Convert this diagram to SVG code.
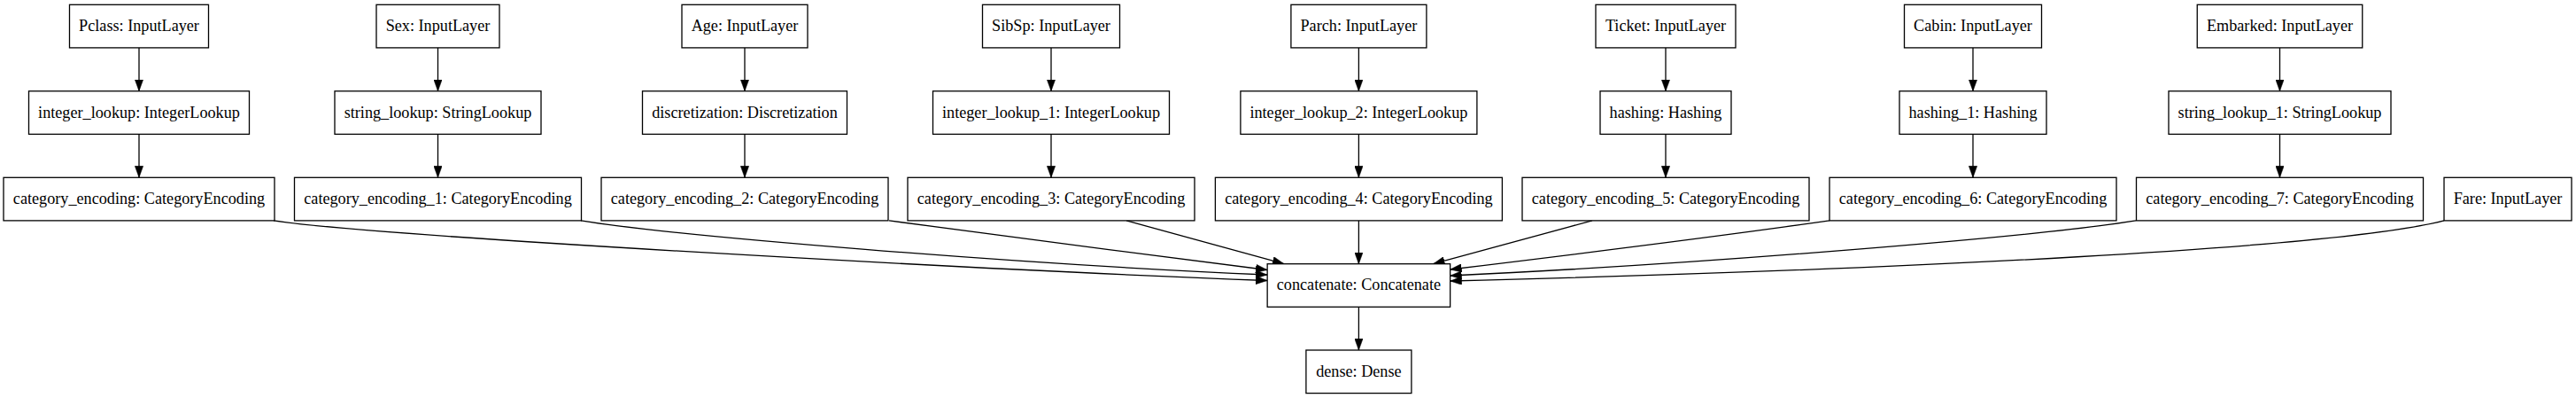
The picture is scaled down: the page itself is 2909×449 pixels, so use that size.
<svg xmlns="http://www.w3.org/2000/svg" width="2909" height="449" viewBox="0 0 2909 449">
<style>
.n rect{fill:#fff;stroke:#000;stroke-width:1.3}
.n text{font-family:"Liberation Serif","Times New Roman",serif;font-size:18.2px;fill:#000;text-anchor:middle}
#edges path{fill:none;stroke:#000;stroke-width:1.3;marker-end:url(#ah)}
</style>
<defs>
<marker id="ah" markerUnits="userSpaceOnUse" markerWidth="13" markerHeight="9.4" viewBox="0 0 13 9.4" refX="13" refY="4.7" orient="auto">
<path d="M0,0 L13,4.7 L0,9.4 Z" fill="#000" stroke="#000" stroke-width="0.5"/>
</marker>
</defs>
<rect width="2909" height="449" fill="#fff"/>
<g id="edges">
<path d="M157,53.9 V102.8"/>
<path d="M494.5,53.9 V102.8"/>
<path d="M841,53.9 V102.8"/>
<path d="M1187,53.9 V102.8"/>
<path d="M1534.4,53.9 V102.8"/>
<path d="M1881,53.9 V102.8"/>
<path d="M2228,53.9 V102.8"/>
<path d="M2574.5,53.9 V102.8"/>
<path d="M157,151.4 V200.3"/>
<path d="M494.5,151.4 V200.3"/>
<path d="M841,151.4 V200.3"/>
<path d="M1187,151.4 V200.3"/>
<path d="M1534.4,151.4 V200.3"/>
<path d="M1881,151.4 V200.3"/>
<path d="M2228,151.4 V200.3"/>
<path d="M2574.5,151.4 V200.3"/>
<path d="M309,248.9 C420,266 1100,304 1431,316.5"/>
<path d="M656,248.9 C760,266 1150,298 1431,310"/>
<path d="M1004,248.9 C1100,262 1300,288 1431,304.5"/>
<path d="M1272,248.9 L1450,297.7"/>
<path d="M1534.4,248.9 V297.7"/>
<path d="M1798,248.9 L1618.5,297.7"/>
<path d="M2066,248.9 C1960,264 1770,288 1637.6,304"/>
<path d="M2412,248.9 C2300,267 1920,298 1637.6,311"/>
<path d="M2760,248.9 C2640,280 2150,304 1637.6,317"/>
<path d="M1534.4,346.3 V395"/>
</g>
<g id="pclass" class="n"><rect x="78.5" y="5.3" width="157" height="48.6"/><text x="157" y="35.1">Pclass: InputLayer</text></g>
<g id="sex" class="n"><rect x="425" y="5.3" width="139" height="48.6"/><text x="494.5" y="35.1">Sex: InputLayer</text></g>
<g id="age" class="n"><rect x="770" y="5.3" width="142" height="48.6"/><text x="841" y="35.1">Age: InputLayer</text></g>
<g id="sibsp" class="n"><rect x="1109.5" y="5.3" width="155" height="48.6"/><text x="1187" y="35.1">SibSp: InputLayer</text></g>
<g id="parch" class="n"><rect x="1457.9" y="5.3" width="153" height="48.6"/><text x="1534.4" y="35.1">Parch: InputLayer</text></g>
<g id="ticket" class="n"><rect x="1802" y="5.3" width="158" height="48.6"/><text x="1881" y="35.1">Ticket: InputLayer</text></g>
<g id="cabin" class="n"><rect x="2150.5" y="5.3" width="155" height="48.6"/><text x="2228" y="35.1">Cabin: InputLayer</text></g>
<g id="embarked" class="n"><rect x="2481.25" y="5.3" width="186.5" height="48.6"/><text x="2574.5" y="35.1">Embarked: InputLayer</text></g>
<g id="integer_lookup" class="n"><rect x="32.5" y="102.8" width="249" height="48.6"/><text x="157" y="132.6">integer_lookup: IntegerLookup</text></g>
<g id="string_lookup" class="n"><rect x="378" y="102.8" width="233" height="48.6"/><text x="494.5" y="132.6">string_lookup: StringLookup</text></g>
<g id="discretization" class="n"><rect x="725.5" y="102.8" width="231" height="48.6"/><text x="841" y="132.6">discretization: Discretization</text></g>
<g id="integer_lookup_1" class="n"><rect x="1053.5" y="102.8" width="267" height="48.6"/><text x="1187" y="132.6">integer_lookup_1: IntegerLookup</text></g>
<g id="integer_lookup_2" class="n"><rect x="1400.9" y="102.8" width="267" height="48.6"/><text x="1534.4" y="132.6">integer_lookup_2: IntegerLookup</text></g>
<g id="hashing" class="n"><rect x="1807" y="102.8" width="148" height="48.6"/><text x="1881" y="132.6">hashing: Hashing</text></g>
<g id="hashing_1" class="n"><rect x="2145" y="102.8" width="166" height="48.6"/><text x="2228" y="132.6">hashing_1: Hashing</text></g>
<g id="string_lookup_1" class="n"><rect x="2449" y="102.8" width="251" height="48.6"/><text x="2574.5" y="132.6">string_lookup_1: StringLookup</text></g>
<g id="category_encoding" class="n"><rect x="4" y="200.3" width="306" height="48.6"/><text x="157" y="230.1">category_encoding: CategoryEncoding</text></g>
<g id="category_encoding_1" class="n"><rect x="332.5" y="200.3" width="324" height="48.6"/><text x="494.5" y="230.1">category_encoding_1: CategoryEncoding</text></g>
<g id="category_encoding_2" class="n"><rect x="679" y="200.3" width="324" height="48.6"/><text x="841" y="230.1">category_encoding_2: CategoryEncoding</text></g>
<g id="category_encoding_3" class="n"><rect x="1025" y="200.3" width="324" height="48.6"/><text x="1187" y="230.1">category_encoding_3: CategoryEncoding</text></g>
<g id="category_encoding_4" class="n"><rect x="1372.4" y="200.3" width="324" height="48.6"/><text x="1534.4" y="230.1">category_encoding_4: CategoryEncoding</text></g>
<g id="category_encoding_5" class="n"><rect x="1719" y="200.3" width="324" height="48.6"/><text x="1881" y="230.1">category_encoding_5: CategoryEncoding</text></g>
<g id="category_encoding_6" class="n"><rect x="2066" y="200.3" width="324" height="48.6"/><text x="2228" y="230.1">category_encoding_6: CategoryEncoding</text></g>
<g id="category_encoding_7" class="n"><rect x="2412.5" y="200.3" width="324" height="48.6"/><text x="2574.5" y="230.1">category_encoding_7: CategoryEncoding</text></g>
<g id="fare" class="n"><rect x="2760" y="200.3" width="144" height="48.6"/><text x="2832" y="230.1">Fare: InputLayer</text></g>
<g id="concatenate" class="n"><rect x="1431.15" y="297.7" width="206.5" height="48.6"/><text x="1534.4" y="327.3">concatenate: Concatenate</text></g>
<g id="dense" class="n"><rect x="1474.9" y="395" width="119" height="48.6"/><text x="1534.4" y="424.6">dense: Dense</text></g>
</svg>
